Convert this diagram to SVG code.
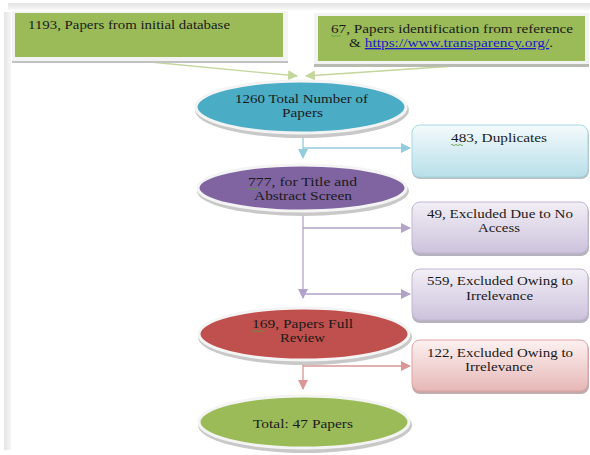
<svg xmlns="http://www.w3.org/2000/svg" width="590" height="455" viewBox="0 0 590 455">
<defs>
<linearGradient id="gL" x1="0" y1="0" x2="1" y2="0"><stop offset="0" stop-color="#e4e4e4"/><stop offset="1" stop-color="#f7f7f7"/></linearGradient>
<linearGradient id="gT" x1="0" y1="0" x2="0" y2="1"><stop offset="0" stop-color="#e2e2e2"/><stop offset="1" stop-color="#f8f8f8"/></linearGradient>
<linearGradient id="gBlue" x1="0" y1="0" x2="0" y2="1"><stop offset="0" stop-color="#f4fafc"/><stop offset="1" stop-color="#b8dfe9"/></linearGradient>
<linearGradient id="gPur" x1="0" y1="0" x2="0" y2="1"><stop offset="0" stop-color="#f2eff6"/><stop offset="1" stop-color="#cdc2dc"/></linearGradient>
<linearGradient id="gRed" x1="0" y1="0" x2="0" y2="1"><stop offset="0" stop-color="#fcf1f1"/><stop offset="1" stop-color="#e6b8b7"/></linearGradient>
<marker id="aG" viewBox="0 0 10 10" refX="9" refY="5" markerWidth="10" markerHeight="10" markerUnits="userSpaceOnUse" orient="auto"><path d="M0,0 L10,5 L0,10 Z" fill="#c3d69b"/></marker>
<marker id="aB" viewBox="0 0 10 10" refX="9" refY="5" markerWidth="10" markerHeight="10" markerUnits="userSpaceOnUse" orient="auto"><path d="M0,0 L10,5 L0,10 Z" fill="#93cddd"/></marker>
<marker id="aP" viewBox="0 0 10 10" refX="9" refY="5" markerWidth="10" markerHeight="10" markerUnits="userSpaceOnUse" orient="auto"><path d="M0,0 L10,5 L0,10 Z" fill="#b3a2c7"/></marker>
<marker id="aR" viewBox="0 0 10 10" refX="9" refY="5" markerWidth="10" markerHeight="10" markerUnits="userSpaceOnUse" orient="auto"><path d="M0,0 L10,5 L0,10 Z" fill="#d99694"/></marker>
</defs>
<style>
text{font-family:"Liberation Serif","Times New Roman",serif;font-size:13px;fill:#1a1a1a}
.c{text-anchor:middle}
.sq{fill:none;stroke:#5a9a3a;stroke-width:0.8}
.ringShadow{fill:#c8c8c8}
.ring{stroke:#f4f4f4;stroke-width:3}
</style>
<rect width="590" height="455" fill="#ffffff"/>
<rect x="4" y="12" width="7" height="438" fill="url(#gL)"/>
<rect x="8" y="3" width="582" height="7" fill="url(#gT)"/>

<g id="connectors" fill="none" stroke-width="1.3">
<path d="M150,62 L297,76" stroke="#c3d69b" marker-end="url(#aG)"/>
<path d="M455,66 L306,76" stroke="#c3d69b" marker-end="url(#aG)"/>
<path d="M303,137 L303,158" stroke="#93cddd" marker-end="url(#aB)"/>
<path d="M303,148 L410,148" stroke="#93cddd" marker-end="url(#aB)"/>
<path d="M303,212 L303,298" stroke="#b3a2c7" marker-end="url(#aP)"/>
<path d="M303,228 L410,228" stroke="#b3a2c7" marker-end="url(#aP)"/>
<path d="M303,294 L410,294" stroke="#b3a2c7" marker-end="url(#aP)"/>
<path d="M303,362 L303,389" stroke="#d99694" marker-end="url(#aR)"/>
<path d="M303,366 L410,366" stroke="#d99694" marker-end="url(#aR)"/>
</g>

<g id="n1193">
<rect x="12" y="11" width="276" height="52" fill="#c2c2c2"/>
<rect x="12" y="11" width="276" height="50" fill="#f3f3f3"/>
<rect x="15" y="13" width="268" height="44" fill="#9bbb59"/>
<text x="28" y="29" textLength="202" lengthAdjust="spacingAndGlyphs">1193, Papers from initial database</text>
</g>

<g id="n67">
<rect x="314" y="13" width="275" height="54" fill="#b8bcb0"/>
<rect x="314" y="13" width="275" height="51" fill="#f3f3f3"/>
<rect x="318" y="16" width="267" height="45" fill="#9bbb59"/>
<text class="c" x="452" y="33" textLength="242" lengthAdjust="spacingAndGlyphs">67, Papers identification from reference</text>
<text class="c" x="451" y="47" textLength="204" lengthAdjust="spacingAndGlyphs">&amp; <tspan fill="#1a1acc" text-decoration="underline">https://www.transparency.org/</tspan>.</text>
<path class="sq" d="M331,36 q1,-1.5 2,0 t2,0 t2,0 t2,0 t2,0"/>
</g>

<g id="n1260">
<ellipse class="ringShadow" cx="302" cy="110" rx="107" ry="28"/>
<ellipse class="ring" cx="301" cy="107" rx="105" ry="26" fill="#4bacc6"/>
<text class="c" x="301.5" y="103" textLength="133" lengthAdjust="spacingAndGlyphs">1260 Total Number of</text>
<text class="c" x="302.5" y="117" textLength="41" lengthAdjust="spacingAndGlyphs">Papers</text>
</g>

<g id="n483">
<rect x="412" y="127" width="177" height="52" rx="8" fill="#b6bfc2"/>
<rect x="412" y="125" width="176" height="52" rx="8" fill="url(#gBlue)" stroke="#a6d6e3" stroke-width="1"/>
<text class="c" x="499" y="142" textLength="96" lengthAdjust="spacingAndGlyphs">483, Duplicates</text>
<path class="sq" d="M451,145 q1,-1.5 2,0 t2,0 t2,0 t2,0 t2,0 t2,0"/>
</g>

<g id="n777">
<ellipse class="ringShadow" cx="303" cy="191" rx="106" ry="25"/>
<ellipse class="ring" cx="302" cy="188" rx="104" ry="23" fill="#8064a2"/>
<text class="c" x="302.5" y="186" textLength="109" lengthAdjust="spacingAndGlyphs">777, for Title and</text>
<text class="c" x="303" y="200" textLength="98" lengthAdjust="spacingAndGlyphs">Abstract Screen</text>
<path class="sq" d="M248,189 q1,-1.5 2,0 t2,0 t2,0 t2,0 t2,0 t2,0"/>
</g>

<g id="n49">
<rect x="412" y="204" width="177" height="52" rx="8" fill="#b6b2bd"/>
<rect x="412" y="202" width="176" height="51" rx="8" fill="url(#gPur)" stroke="#c2b5d4" stroke-width="1"/>
<text class="c" x="500" y="218" textLength="146" lengthAdjust="spacingAndGlyphs">49, Excluded Due to No</text>
<text class="c" x="499" y="232" textLength="42" lengthAdjust="spacingAndGlyphs">Access</text>
</g>

<g id="n559">
<rect x="412" y="271" width="177" height="52" rx="8" fill="#b6b2bd"/>
<rect x="412" y="269" width="176" height="51" rx="8" fill="url(#gPur)" stroke="#c2b5d4" stroke-width="1"/>
<text class="c" x="500" y="285" textLength="146" lengthAdjust="spacingAndGlyphs">559, Excluded Owing to</text>
<text class="c" x="499.5" y="300" textLength="67" lengthAdjust="spacingAndGlyphs">Irrelevance</text>
</g>

<g id="n169">
<ellipse class="ringShadow" cx="305" cy="337" rx="107" ry="28"/>
<ellipse class="ring" cx="304" cy="334" rx="105" ry="26" fill="#c0504d"/>
<text class="c" x="302.5" y="328" textLength="101" lengthAdjust="spacingAndGlyphs">169, Papers Full</text>
<text class="c" x="302.5" y="342" textLength="45" lengthAdjust="spacingAndGlyphs">Review</text>
<path class="sq" d="M252,331 q1,-1.5 2,0 t2,0 t2,0 t2,0 t2,0 t2,0"/>
</g>

<g id="n122">
<rect x="412" y="342" width="177" height="52" rx="8" fill="#c2abab"/>
<rect x="412" y="340" width="176" height="51" rx="8" fill="url(#gRed)" stroke="#dfa3a2" stroke-width="1"/>
<text class="c" x="500" y="357" textLength="146" lengthAdjust="spacingAndGlyphs">122, Excluded Owing to</text>
<text class="c" x="499" y="371" textLength="68" lengthAdjust="spacingAndGlyphs">Irrelevance</text>
</g>

<g id="n47">
<ellipse class="ringShadow" cx="305" cy="425" rx="107" ry="28"/>
<ellipse class="ring" cx="304" cy="422" rx="105" ry="26" fill="#9bbb59"/>
<text class="c" x="303" y="428" textLength="100" lengthAdjust="spacingAndGlyphs">Total: 47 Papers</text>
</g>
</svg>
